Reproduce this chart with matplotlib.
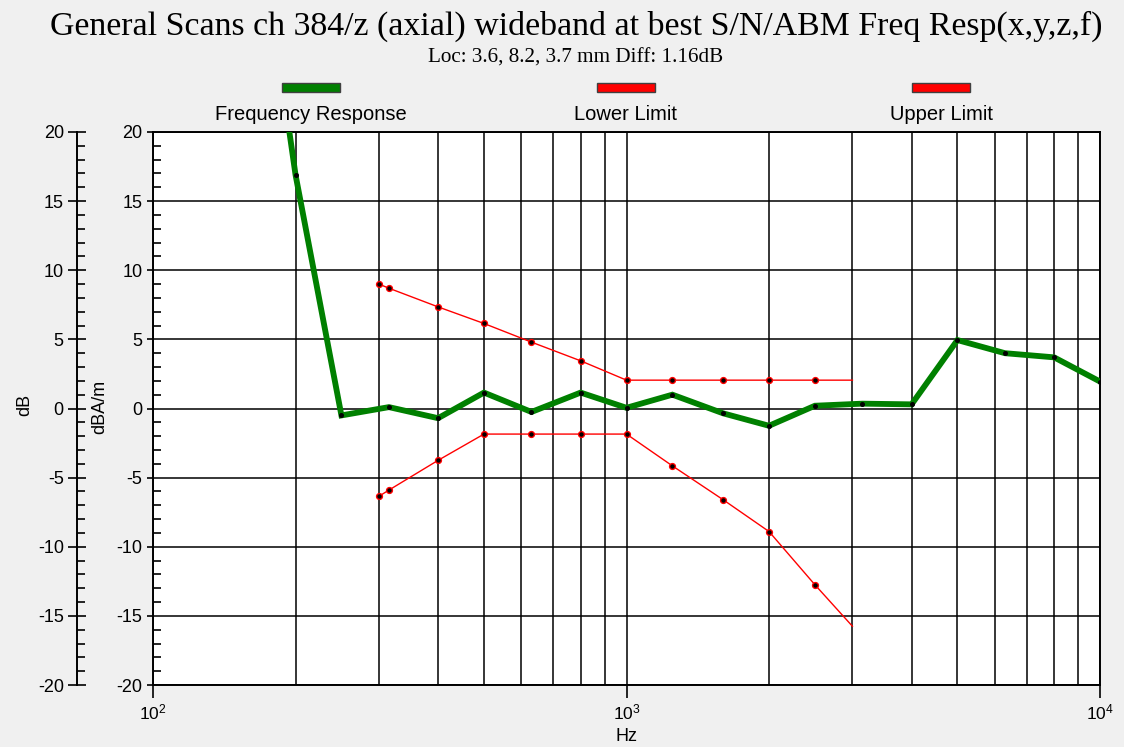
import matplotlib
matplotlib.use("Agg")
import matplotlib.pyplot as plt
from matplotlib.ticker import MultipleLocator, LogLocator, NullFormatter
from matplotlib.patches import Rectangle

# --- data ---
resp_freq = [160, 200, 250, 315, 400, 500, 630, 800, 1000, 1250, 1600,
             2000, 2500, 3150, 4000, 5000, 6300, 8000, 10000]
resp_db = [40.0, 16.9, -0.5, 0.1, -0.7, 1.15, -0.25, 1.15, 0.05, 1.0, -0.35,
           -1.25, 0.2, 0.35, 0.3, 4.95, 4.0, 3.7, 1.95]

limit_freq = [300, 315, 400, 500, 630, 800, 1000, 1250, 1600, 2000, 2500, 3000]
upper_db = [9.0, 8.7, 7.35, 6.15, 4.8, 3.45, 2.05, 2.05, 2.05, 2.05, 2.05, 2.05]
lower_db = [-6.35, -5.9, -3.75, -1.85, -1.85, -1.85, -1.85, -4.15, -6.6,
            -8.9, -12.75, -15.75]

legend_names = ["Frequency Response", "Lower Limit", "Upper Limit"]
legend_colors = ["#008000", "#ff0000", "#ff0000"]

title = "General Scans ch 384/z (axial) wideband at best S/N/ABM Freq Resp(x,y,z,f)"
subtitle = "Loc: 3.6, 8.2, 3.7 mm Diff: 1.16dB"

W, H = 1124, 747
BG = "#f0f0f0"
SANS = ["Liberation Sans", "DejaVu Sans"]
SERIF = ["Liberation Serif", "DejaVu Serif"]

fig = plt.figure(figsize=(W / 100, H / 100), dpi=100, facecolor=BG)

left, right, top, bottom = 153, 1100, 132, 685
ax = fig.add_axes([left / W, 1 - bottom / H, (right - left) / W, (bottom - top) / H])
ax.set_facecolor("white")

ax.set_xscale("log")
ax.set_xlim(100, 10000)
ax.set_ylim(-20, 20)

# grid: log minor lines on x, every 5 dB on y
ax.xaxis.set_major_locator(LogLocator(base=10))
ax.xaxis.set_minor_locator(LogLocator(base=10, subs=range(2, 10)))
ax.xaxis.set_minor_formatter(NullFormatter())
ax.yaxis.set_major_locator(MultipleLocator(5))
ax.yaxis.set_minor_locator(MultipleLocator(1))
ax.grid(True, which="both", axis="x", color="black", lw=1.1)
ax.grid(True, which="major", axis="y", color="black", lw=1.1)
ax.set_axisbelow(True)

ax.tick_params(axis="x", which="major", direction="out", length=9.5, width=1.2,
               pad=3, labelsize=12.5)
ax.tick_params(axis="x", which="minor", length=0)
ax.tick_params(axis="y", which="major", direction="out", length=4.5, width=1.2,
               pad=3, labelsize=13)
ax.tick_params(axis="y", which="minor", direction="in", length=6, width=1.2)
for lab in ax.get_xticklabels():
    lab.set_family(SANS)
ax.set_yticks(range(-20, 21, 5))
ax.set_yticklabels([str(v) for v in range(-20, 21, 5)], family=SANS)

for s in ax.spines.values():
    s.set_linewidth(1.4)
    s.set_color("black")

# traces
ax.plot(resp_freq, resp_db, color="#008000", lw=4.2, solid_joinstyle="miter",
        marker="o", ms=2.6, mfc="black", mec="black", zorder=3)
ax.plot(limit_freq, lower_db, color="#ff0000", lw=1.0, marker="o", ms=4.2,
        mfc="black", mec="#ff0000", mew=1.0, markevery=slice(0, -1), zorder=4)
ax.plot(limit_freq, upper_db, color="#ff0000", lw=1.0, marker="o", ms=4.2,
        mfc="black", mec="#ff0000", mew=1.0, markevery=slice(0, -1), zorder=4)

ax.set_xlabel("Hz", family=SANS, fontsize=13, labelpad=4)

# outer dB axis
outer = 77
ax2 = fig.add_axes([outer / W, 1 - bottom / H, 0.0001, (bottom - top) / H])
ax2.patch.set_visible(False)
for k in ["top", "right", "bottom"]:
    ax2.spines[k].set_visible(False)
ax2.spines["left"].set_linewidth(1.4)
ax2.set_ylim(-20, 20)
ax2.set_xticks([])
ax2.yaxis.set_major_locator(MultipleLocator(5))
ax2.yaxis.set_minor_locator(MultipleLocator(1))
ax2.tick_params(axis="y", which="major", direction="inout", length=13, width=1.2,
                pad=3, labelsize=13)
ax2.tick_params(axis="y", which="minor", direction="in", length=6, width=1.2)
ax2.set_yticks(range(-20, 21, 5))
ax2.set_yticklabels([str(v) for v in range(-20, 21, 5)], family=SANS)

# axis names
fig.text(25 / W, 1 - 405 / H, "dB", rotation=90, ha="center", va="center",
         family=SANS, fontsize=13)
fig.text(100 / W, 1 - 407 / H, "dBA/m", rotation=90, ha="center", va="center",
         family=SANS, fontsize=13)

# titles
fig.text(576 / W, 1 - 26 / H, title, ha="center", va="center", family=SERIF,
         fontsize=24.4)
fig.text(576 / W, 1 - 58 / H, subtitle, ha="center", va="center", family=SERIF,
         fontsize=15.2)

# legend across the top
for name, col, cx in zip(legend_names, legend_colors, [311, 626, 941]):
    fig.patches.append(Rectangle(((cx - 29) / W, 1 - 92 / H), 58 / W, 9 / H,
                                 transform=fig.transFigure, facecolor=col,
                                 edgecolor="#404040", lw=1.0))
    fig.text(cx / W, 1 - 115 / H, name, ha="center", va="center",
             family=SANS, fontsize=14.5)

fig.savefig("out.png", dpi=100, facecolor=BG)
